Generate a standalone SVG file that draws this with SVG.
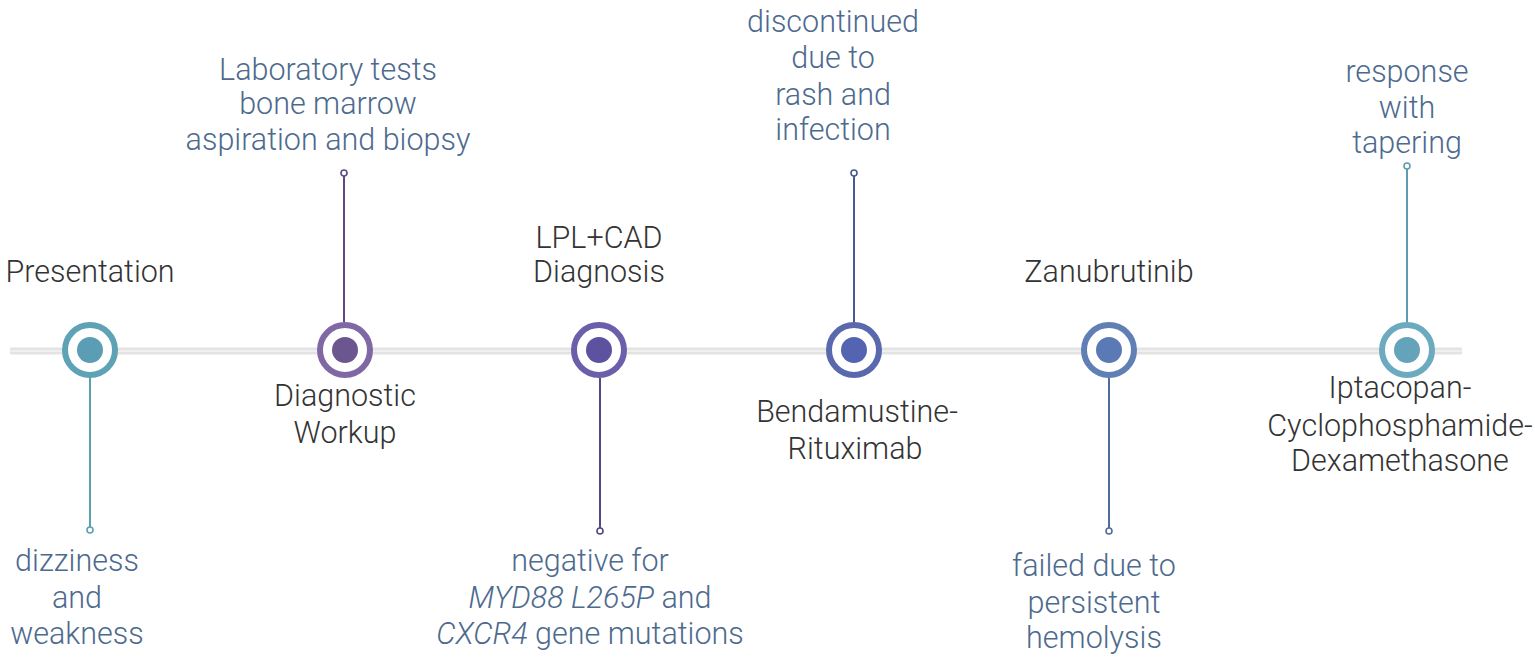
<svg xmlns="http://www.w3.org/2000/svg" width="1535" height="662" viewBox="0 0 1535 662">
<style>
text{font-family:Roboto,"Liberation Sans",sans-serif;font-weight:300;font-size:30.5px;text-anchor:middle}
.t{fill:#333}
.d{fill:#4d6a8e}
.ring{fill:#fff;stroke-width:6}
.stem{stroke-width:2;fill:none}
.tip{fill:#fff;stroke-width:1.6}
</style>
<rect width="1535" height="662" fill="#fff"/>
<g id="axis">
<line x1="10" y1="351" x2="1462" y2="351" stroke="#e3e3e3" stroke-width="7"/>
<line x1="10" y1="351" x2="1462" y2="351" stroke="#efefef" stroke-width="2"/>
</g>
<g id="connectors">
<line class="stem" x1="90" y1="378" x2="90" y2="528" stroke="#5b9fb3"/>
<circle class="tip" cx="90" cy="530" r="3" stroke="#5b9fb3"/>
<line class="stem" x1="344" y1="322" x2="344" y2="175" stroke="#5d4c80"/>
<circle class="tip" cx="344" cy="173" r="3" stroke="#5d4c80"/>
<line class="stem" x1="600" y1="378" x2="600" y2="529" stroke="#4e4a85"/>
<circle class="tip" cx="600" cy="531" r="3" stroke="#4e4a85"/>
<line class="stem" x1="854" y1="322" x2="854" y2="175" stroke="#485a8e"/>
<circle class="tip" cx="854" cy="173" r="3" stroke="#485a8e"/>
<line class="stem" x1="1109" y1="378" x2="1109" y2="529" stroke="#4f6c9c"/>
<circle class="tip" cx="1109" cy="531" r="3" stroke="#4f6c9c"/>
<line class="stem" x1="1407" y1="322" x2="1407" y2="168" stroke="#5d9cb2"/>
<circle class="tip" cx="1407" cy="166" r="3" stroke="#5d9cb2"/>
</g>
<g id="n1">
<circle class="ring" cx="90" cy="350" r="25" stroke="#5ea2b6"/>
<circle cx="90" cy="350" r="13" fill="#5b9db4"/>
<text class="t" x="90" y="282">Presentation</text>
<text class="d" x="77" y="571">dizziness</text>
<text class="d" x="77" y="608">and</text>
<text class="d" x="77" y="644">weakness</text>
</g>
<g id="n2">
<circle class="ring" cx="345" cy="350" r="25" stroke="#8068a4"/>
<circle cx="345" cy="350" r="13" fill="#6c5690"/>
<text class="t" x="345" y="406">Diagnostic</text>
<text class="t" x="345" y="443">Workup</text>
<text class="d" x="328" y="80">Laboratory tests</text>
<text class="d" x="328" y="114">bone marrow</text>
<text class="d" x="328" y="150">aspiration and biopsy</text>
</g>
<g id="n3">
<circle class="ring" cx="599" cy="350" r="25" stroke="#6b5fab"/>
<circle cx="599" cy="350" r="13" fill="#5d529f"/>
<text class="t" x="599" y="248">LPL+CAD</text>
<text class="t" x="599" y="282">Diagnosis</text>
<text class="d" x="590" y="571">negative for</text>
<text class="d" x="590" y="608"><tspan font-style="italic">MYD88 L265P</tspan> and</text>
<text class="d" x="590" y="644"><tspan font-style="italic">CXCR4</tspan> gene mutations</text>
</g>
<g id="n4">
<circle class="ring" cx="854" cy="350" r="25" stroke="#5a68ae"/>
<circle cx="854" cy="350" r="13" fill="#5464b0"/>
<text class="t" x="857" y="422">Bendamustine-</text>
<text class="t" x="855" y="459">Rituximab</text>
<text class="d" x="833" y="32">discontinued</text>
<text class="d" x="833" y="68">due to</text>
<text class="d" x="833" y="105">rash and</text>
<text class="d" x="833" y="140">infection</text>
</g>
<g id="n5">
<circle class="ring" cx="1109" cy="350" r="25" stroke="#5f7fb5"/>
<circle cx="1109" cy="350" r="13" fill="#5a7ab5"/>
<text class="t" x="1109" y="282">Zanubrutinib</text>
<text class="d" x="1094" y="576">failed due to</text>
<text class="d" x="1094" y="613">persistent</text>
<text class="d" x="1094" y="648">hemolysis</text>
</g>
<g id="n6">
<circle class="ring" cx="1407" cy="350" r="25" stroke="#6caac0"/>
<circle cx="1407" cy="350" r="13" fill="#65a3ba"/>
<text class="t" x="1400" y="398">Iptacopan-</text>
<text class="t" x="1400" y="436">Cyclophosphamide-</text>
<text class="t" x="1400" y="471">Dexamethasone</text>
<text class="d" x="1407" y="82">response</text>
<text class="d" x="1407" y="118">with</text>
<text class="d" x="1407" y="153">tapering</text>
</g>
</svg>
